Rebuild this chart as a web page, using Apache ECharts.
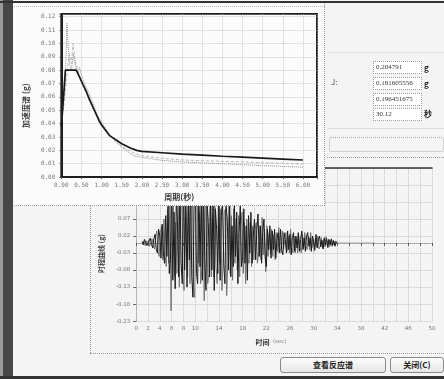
<!DOCTYPE html>
<html>
<head>
<meta charset="utf-8">
<script src="https://cdn.jsdelivr.net/npm/echarts@6/dist/echarts.min.js"></script>
<style>
  body { margin: 0; width: 444px; height: 379px; background: #f4f4f4; position: relative; overflow: hidden;
         font-family: "Noto Sans CJK SC", sans-serif; }
  .abs { position: absolute; }
  #th { left: 90px; top: 157px; width: 354px; height: 196px; }
  #sp { left: 14px; top: 3px; width: 311px; height: 203px; background: #fbfbfb; }
  .box { position: absolute; left: 373px; width: 45px; height: 11px; border: 1px dotted #9a9a9a; background: #fff;
         font: 7px "Liberation Serif", serif; line-height: 11px; padding-left: 2px; color: #333; overflow: hidden; white-space: nowrap; }
  .unit { position: absolute; left: 424px; font: bold 8px "Noto Sans CJK SC", sans-serif; color: #222; }
  .btn { position: absolute; top: 357px; height: 14px; border: 1px solid #8a8a8a; border-radius: 3px;
         background: linear-gradient(#fdfdfd, #e6e6e6); font: bold 8px "Noto Sans CJK SC", sans-serif;
         color: #222; text-align: center; line-height: 14px; }
</style>
</head>
<body>
<div id="th" class="abs"></div>

<!-- dialog frame lines -->
<div class="abs" style="left:90px;top:205px;width:0;height:148px;border-left:1px dotted #999"></div>
<div class="abs" style="left:90px;top:353px;width:354px;height:0;border-top:1px dotted #999"></div>
<div class="abs" style="left:327px;top:157px;width:117px;height:0;border-top:1px dotted #999"></div>
<div class="abs" style="left:327px;top:52px;width:117px;height:75px;border-top:1px solid #e0e0e0;border-bottom:1px solid #dcdcdc"></div>
<div class="abs" style="left:329px;top:137px;width:113px;height:13px;border:1px dotted #aaa;border-radius:2px"></div>

<div class="abs" style="left:331px;top:76px;font:8px 'Noto Sans CJK SC';color:#555">J:</div>
<div class="box" style="top:61px">0.204791</div>
<div class="box" style="top:77px">0.181605556</div>
<div class="box" style="top:93px">0.196451675</div>
<div class="box" style="top:108px">30.12</div>
<div class="unit" style="top:62px">g</div>
<div class="unit" style="top:78px">g</div>
<div class="unit" style="top:108px">秒</div>

<div class="btn" style="left:280px;width:104px">查看反应谱</div>
<div class="btn" style="left:390px;width:52px">关闭(C)</div>

<div id="sp" class="abs"></div>
<div class="abs" style="left:14px;top:3px;width:311px;height:203px;border-right:1px dotted #999;border-bottom:1px dotted #999;box-sizing:border-box"></div>
<div class="abs" style="left:14px;top:6px;width:311px;height:0;border-top:1px dotted #bbb"></div>

<div class="abs" style="left:0;top:0;width:3px;height:379px;background:#9a9a9a"></div>
<div class="abs" style="left:3px;top:0;width:10px;height:379px;background:#474747"></div>
<div class="abs" style="left:0;top:1px;width:444px;height:2px;background:#333"></div>
<div class="abs" style="left:0;top:376px;width:444px;height:3px;background:#333"></div>

<script>
// response spectrum: design curve (dark) and two record spectra (gray)
const designT  = [0, 0.05, 0.1, 0.37, 0.45, 0.54, 0.62, 0.7, 0.82, 0.94, 1.0, 1.2, 1.5, 1.7, 1.87, 2.0, 2.5, 3.0, 3.5, 4.0, 4.5, 5.0, 5.5, 6.0];
const designSa = [0.038, 0.058, 0.080, 0.080, 0.075, 0.069, 0.064, 0.058, 0.050, 0.042, 0.039, 0.031, 0.025, 0.022, 0.020, 0.0192, 0.0182, 0.0172, 0.0164, 0.0156, 0.0149, 0.0142, 0.0135, 0.0128];
const rec1T  = [0, 0.05, 0.1, 0.14, 0.17, 0.2, 0.25, 0.3, 0.35, 0.4, 0.45, 0.5, 0.6, 0.7, 0.8, 0.9, 1.0, 1.2, 1.4, 1.6, 1.8, 2.0, 2.5, 3.0, 3.5, 4.0, 4.5, 5.0, 5.5, 6.0];
const rec1Sa = [0.040, 0.055, 0.072, 0.115, 0.098, 0.085, 0.080, 0.092, 0.083, 0.078, 0.082, 0.076, 0.068, 0.062, 0.054, 0.046, 0.041, 0.031, 0.025, 0.020, 0.016, 0.0148, 0.0125, 0.0113, 0.0106, 0.0100, 0.0093, 0.0086, 0.0080, 0.0074];
const rec2T  = [0, 0.05, 0.1, 0.15, 0.2, 0.25, 0.29, 0.33, 0.38, 0.45, 0.5, 0.6, 0.7, 0.8, 1.0, 1.2, 1.5, 1.8, 2.0, 2.5, 3.0, 4.0, 5.0, 6.0];
const rec2Sa = [0.042, 0.050, 0.065, 0.080, 0.092, 0.085, 0.100, 0.090, 0.082, 0.076, 0.072, 0.064, 0.057, 0.050, 0.040, 0.032, 0.023, 0.018, 0.016, 0.0140, 0.0128, 0.0118, 0.0108, 0.0098];

// acceleration time histories, sampled every 0.2 s (dark trace from 1.0 s, gray trace from 1.1 s)
const thStep = 0.2;
const darkStart = 1.0;
const darkAcc = [
  0.004,-0.006,0.01,0.002,-0.008,-0.012,0.006,0.014,-0.004,-0.015,
  0.012,0.025,-0.02,-0.03,0.04,0.02,-0.045,0.055,-0.03,-0.06,
  0.08,-0.04,0.12,-0.09,-0.05,0.16,-0.11,0.09,-0.135,0.14,
  0.05,-0.1,0.17,-0.06,-0.12,0.2,-0.08,0.11,-0.13,0.15,
  -0.05,0.19,-0.1,-0.16,0.13,0.21,-0.09,-0.12,0.16,-0.07,
  0.14,-0.11,0.18,-0.05,-0.14,0.12,0.06,-0.1,0.15,-0.08,
  0.16,-0.14,0.1,0.04,-0.09,0.13,-0.11,0.08,0.12,-0.06,
  -0.12,0.11,0.07,-0.08,0.13,-0.1,0.05,-0.07,0.12,-0.04,
  0.09,-0.12,0.03,0.11,-0.07,-0.04,0.1,-0.06,0.05,-0.11,
  0.08,-0.03,0.09,-0.06,0.02,0.07,-0.05,0.04,0.085,-0.04,
  0.05,-0.06,0.03,0.07,-0.04,-0.07,0.04,-0.02,0.05,-0.045,
  0.035,-0.02,0.04,-0.045,0.01,0.03,-0.03,0.04,-0.02,-0.035,
  0.03,0.01,-0.03,0.035,-0.02,0.025,-0.035,0.015,0.03,-0.025,
  0.02,-0.015,0.03,-0.025,0.01,0.035,-0.02,0.015,-0.025,0.02,
  0.03,-0.01,0.015,-0.025,0.02,0.005,-0.02,0.025,-0.015,0.01,
  0.02,-0.012,0.008,-0.018,0.015,-0.005,0.012,-0.014,0.01,-0.006,
  0.012,-0.008,0.006,-0.01,0.004,0
];
const grayStart = 1.1;
const grayAcc = [
  -0.003,0.005,-0.008,0.006,-0.004,0.009,-0.01,0.005,0.012,-0.009,
  -0.018,0.02,0.035,-0.025,-0.04,0.03,0.05,-0.05,0.07,-0.04,
  -0.07,0.1,-0.06,0.13,-0.2,0.08,0.12,-0.1,0.06,-0.09,
  0.13,-0.13,0.08,0.16,-0.09,-0.14,0.12,0.07,-0.1,0.18,
  -0.12,0.1,0.15,-0.13,-0.16,0.11,0.17,-0.06,0.09,-0.12,
  -0.08,0.12,-0.17,0.1,0.15,-0.12,-0.09,0.13,-0.1,0.07,
  -0.1,0.13,-0.07,-0.12,0.14,-0.06,0.1,-0.14,-0.05,0.09,
  0.1,-0.155,-0.06,0.12,-0.09,0.08,-0.11,0.1,-0.06,0.07,
  -0.08,0.08,-0.1,0.05,0.09,-0.09,0.06,-0.12,0.07,-0.05,
  -0.06,0.06,-0.07,0.05,-0.05,0.04,0.06,-0.06,-0.03,0.05,
  -0.05,0.075,-0.035,0.04,-0.085,0.05,-0.04,0.03,-0.03,0.04,
  -0.04,0.025,-0.05,0.03,-0.025,0.045,-0.01,-0.03,0.035,-0.02,
  -0.02,0.03,-0.025,0.02,-0.03,0.04,-0.01,-0.03,0.02,-0.03,
  0.015,-0.03,0.02,-0.01,-0.03,0.025,-0.015,0.03,-0.01,-0.02,
  0.02,-0.02,0.03,-0.015,0.01,-0.025,0.015,-0.01,0.02,-0.018,
  -0.01,0.015,-0.015,0.01,-0.012,0.018,-0.008,0.01,-0.012,0.008,
  -0.01,0.008,-0.006,0.005,-0.003,0
];
const tailT = [34.0, 40.4];
const tailAcc = [0, 0];

const zip = (xs, ys) => xs.map((x, i) => [x, ys[i]]);
const sampled = (start, vals) => vals.map((a, i) => [start + i * thStep, a]);
const mono = 'DejaVu Sans Mono';
const cjk = 'Noto Sans CJK SC';

const spChart = echarts.init(document.getElementById('sp'));
spChart.setOption({
  animation: false,
  grid: { left: 33, right: 8, top: 11, bottom: 26, show: true, borderColor: '#1e1e1e', borderWidth: 2 },
  xAxis: {
    type: 'value', min: 0, max: 6.35, interval: 0.5,
    name: '周期(秒)', nameLocation: 'middle', nameGap: 13,
    nameTextStyle: { fontFamily: cjk, fontSize: 8, fontWeight: 'bold', color: '#333', padding: [0, 20, 0, 0] },
    axisLine: { lineStyle: { color: '#1e1e1e', width: 2 } },
    axisTick: { length: 2, lineStyle: { color: '#555' } },
    axisLabel: {
      fontFamily: mono, fontSize: 6, color: '#777', margin: 5,
      formatter: v => (Math.abs(v * 2 - Math.round(v * 2)) < 1e-6 ? v.toFixed(2) : '')
    },
    splitLine: { show: true, lineStyle: { type: 'dotted', color: '#bdbdbd', width: 0.8 } }
  },
  yAxis: {
    type: 'value', min: 0, max: 0.122, interval: 0.01,
    name: '加速度谱 (g)', nameLocation: 'middle', nameGap: 22,
    nameTextStyle: { fontFamily: cjk, fontSize: 8, fontWeight: 'bold', color: '#444', padding: [0, 20, 0, 0] },
    axisLine: { lineStyle: { color: '#1e1e1e', width: 2 } },
    axisTick: { length: 2, lineStyle: { color: '#555' } },
    axisLabel: {
      fontFamily: mono, fontSize: 6, color: '#777', margin: 6,
      formatter: v => (Math.abs(v * 100 - Math.round(v * 100)) < 1e-6 ? v.toFixed(2) : '')
    },
    splitLine: { show: true, lineStyle: { type: 'dotted', color: '#bdbdbd', width: 0.8 } }
  },
  series: [
    { type: 'line', data: zip(rec2T, rec2Sa), symbol: 'none', lineStyle: { color: '#b0b0b0', width: 0.9, type: [3, 2] } },
    { type: 'line', data: zip(rec1T, rec1Sa), symbol: 'none', lineStyle: { color: '#8c8c8c', width: 1, type: 'dotted' } },
    { type: 'line', data: zip(designT, designSa), symbol: 'none', z: 5, lineStyle: { color: '#1a1a1a', width: 1.7 } }
  ]
});

const thChart = echarts.init(document.getElementById('th'));
thChart.setOption({
  animation: false,
  grid: { left: 36, right: 12, top: 11, bottom: 25 },
  xAxis: [{
    type: 'value', min: 0, max: 50, interval: 2,
    name: '{a|时间} {b|(sec)}', nameLocation: 'middle', nameGap: 12,
    nameTextStyle: {
      padding: [0, 26, 0, 0],
      rich: {
        a: { fontFamily: cjk, fontSize: 7, fontWeight: 'bold', color: '#333' },
        b: { fontFamily: 'DejaVu Sans', fontSize: 5.5, color: '#888' }
      }
    },
    axisLine: { lineStyle: { color: '#9a9a9a', type: 'dotted' } },
    axisTick: { length: 3, lineStyle: { color: '#555' } },
    axisLabel: {
      fontFamily: 'DejaVu Sans', fontSize: 5.5, color: '#777', margin: 4,
      formatter: v => (v <= 10 || (v - 10) % 4 === 0 ? String(v) : '')
    },
    splitLine: { show: true, lineStyle: { type: 'dotted', color: '#b8b8b8', width: 0.8 } }
  }, {
    type: 'value', position: 'top', min: 0, max: 50,
    axisLine: { lineStyle: { color: '#333', width: 1.5 } },
    axisTick: { show: false }, axisLabel: { show: false }, splitLine: { show: false }
  }],
  yAxis: {
    type: 'value', min: -0.23, max: 0.22, interval: 0.05,
    name: '时程曲线 (g)', nameLocation: 'middle', nameGap: 27,
    nameTextStyle: { fontFamily: cjk, fontSize: 7, fontWeight: 'bold', color: '#444', padding: [0, 18, 0, 0] },
    axisLine: { lineStyle: { color: '#aaa', type: 'dotted' } },
    axisTick: { length: 3, lineStyle: { color: '#666' } },
    axisLabel: { fontFamily: 'DejaVu Sans', fontSize: 5.5, color: '#777', margin: 6, formatter: v => v.toFixed(2) },
    splitLine: { show: true, lineStyle: { type: 'dotted', color: '#b8b8b8', width: 0.8 } }
  },
  series: [
    { type: 'line', data: sampled(grayStart, grayAcc), symbol: 'none', lineStyle: { color: '#6a6a6a', width: 0.9 } },
    { type: 'line', data: sampled(darkStart, darkAcc), symbol: 'none', lineStyle: { color: '#1a1a1a', width: 1 } },
    { type: 'line', data: zip(tailT, tailAcc), symbol: 'none', lineStyle: { color: '#aaa', width: 0.8 } }
  ]
});
</script>
</body>
</html>
